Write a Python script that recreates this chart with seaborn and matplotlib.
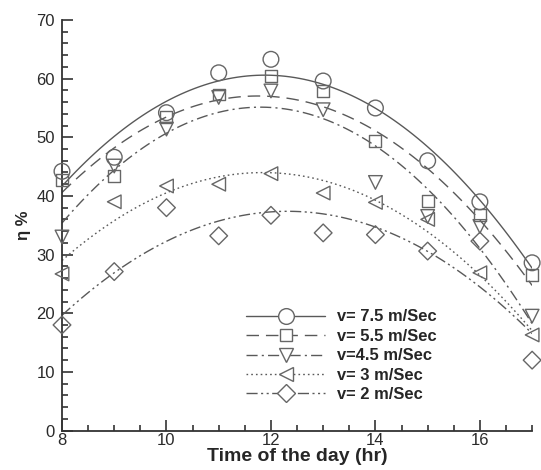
import numpy as np
import pandas as pd
import matplotlib
matplotlib.use("Agg")
import matplotlib.pyplot as plt
from matplotlib.lines import Line2D
from matplotlib.ticker import MultipleLocator
import seaborn as sns

hours = [8, 9, 10, 11, 12, 13, 14, 15, 16, 17]
eta_v75 = [44.2, 46.6, 54.2, 61.0, 63.3, 59.6, 55.0, 46.0, 39.0, 28.6]
eta_v55 = [42.8, 43.4, 53.5, 57.3, 60.5, 57.9, 49.3, 39.1, 36.8, 26.6]
eta_v45 = [33.0, 45.1, 51.4, 56.8, 57.9, 54.7, 42.3, 36.5, 34.8, 19.5]
eta_v3 = [26.7, 39.0, 41.7, 42.0, 43.8, 40.5, 38.9, 36.0, 26.9, 16.3]
eta_v2 = [18.0, 27.1, 38.0, 33.2, 36.7, 33.7, 33.4, 30.6, 32.3, 12.0]
labels = ["v= 7.5 m/Sec", "v= 5.5 m/Sec", "v=4.5 m/Sec", "v= 3 m/Sec", "v= 2 m/Sec"]
x_label = "Time of the day (hr)"
y_label = "\u03b7 %"

sns.set_theme(style="white")
plt.rcParams["font.family"] = ["Liberation Sans", "DejaVu Sans"]

series = [eta_v75, eta_v55, eta_v45, eta_v3, eta_v2]
markers = ["o", "s", "v", "<", "D"]
msizes = [11.3, 8.6, 9.8, 9.8, 9.0]
styles = ["-", (0, (9, 5)), (0, (8, 3, 1.5, 3)), (0, (1.2, 2.2)), (0, (8, 2.5, 1.5, 2.5, 1.5, 2.5))]
lcol = "#595959"
mcol = "#666666"

fig = plt.figure(figsize=(5.41, 4.70), dpi=100)
ax = fig.add_axes([0.1146, 0.084, 0.869, 0.8734])

for vals, mk, ms, ls in zip(series, markers, msizes, styles):
    df = pd.DataFrame({"t": hours, "eta": vals})
    sns.regplot(data=df, x="t", y="eta", order=2, ci=None, scatter=False, ax=ax,
                line_kws=dict(color=lcol, lw=1.0, linestyle=ls))
    sns.scatterplot(data=df, x="t", y="eta", ax=ax, marker=mk, s=ms ** 2,
                    facecolor="none", edgecolor=mcol, linewidth=1.0, clip_on=False, zorder=3)

ax.set_xlim(8, 17)
ax.set_ylim(0, 70)
ax.xaxis.set_major_locator(MultipleLocator(2))
ax.xaxis.set_minor_locator(MultipleLocator(0.5))
ax.yaxis.set_major_locator(MultipleLocator(10))
ax.yaxis.set_minor_locator(MultipleLocator(2))
ax.tick_params(which="both", direction="in", color="#333333", width=1.2,
               labelsize=12, labelcolor="#2a2a2a",
               bottom=True, left=True, top=False, right=False)
ax.tick_params(axis="x", pad=2)
ax.tick_params(axis="y", pad=5)
ax.tick_params(which="major", length=8)
ax.tick_params(which="minor", length=4)
for side in ["top", "right"]:
    ax.spines[side].set_visible(False)
for side in ["left", "bottom"]:
    ax.spines[side].set_color("#333333")
    ax.spines[side].set_linewidth(1.3)

ax.set_xlabel(x_label, fontsize=14, fontweight="bold", labelpad=0)
ax.set_ylabel(y_label, fontsize=12, fontweight="bold", labelpad=4)

handles = [Line2D([0], [0], color=lcol, lw=1.0, linestyle=ls, marker=mk, markersize=ms,
                  markerfacecolor="white", markeredgecolor=mcol)
           for mk, ms, ls in zip(markers, msizes, styles)]
leg = ax.legend(handles, labels, loc="center", bbox_to_anchor=(0.594, 0.182),
                frameon=False, handlelength=4.8, numpoints=1, labelspacing=0.27,
                handletextpad=0.7, borderpad=0, prop=dict(weight="bold", size=11.9))

fig.savefig("out.png", dpi=100)
